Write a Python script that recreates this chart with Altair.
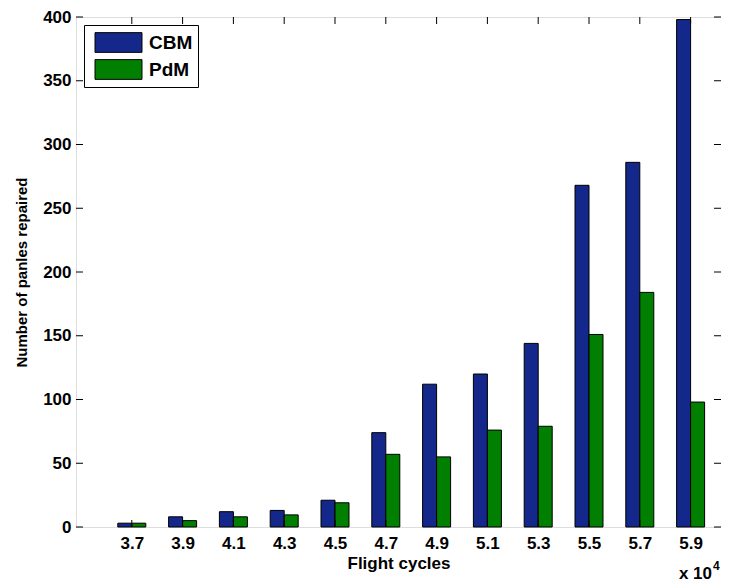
import altair as alt
import pandas as pd

# ---- data ----
cycles = [3.7, 3.9, 4.1, 4.3, 4.5, 4.7, 4.9, 5.1, 5.3, 5.5, 5.7, 5.9]   # x 10^4 flight cycles
cbm = [3, 8, 12, 13, 21, 74, 112, 120, 144, 268, 286, 398]
pdm = [3, 5, 8, 9.5, 19, 57, 55, 76, 79, 151, 184, 98]
series = ["CBM", "PdM"]
colors = ["#13288A", "#007F00"]
y_ticks = [0, 50, 100, 150, 200, 250, 300, 350, 400]
x_domain = [3.5, 6.0]
y_domain = [0, 400]

W, H = 645, 510
FONT = "Liberation Sans"

df = pd.DataFrame({
    "cycles": cycles * 2,
    "value": cbm + pdm,
    "series": ["CBM"] * len(cycles) + ["PdM"] * len(cycles),
})
xt = pd.DataFrame({"t": cycles})
yt = pd.DataFrame({"t": y_ticks})

xscale = alt.Scale(domain=x_domain, nice=False, zero=False)
yscale = alt.Scale(domain=y_domain, nice=False)

color = alt.Color(
    "series:N",
    scale=alt.Scale(domain=series, range=colors),
    legend=alt.Legend(
        title=None,
        orient="none",
        legendX=8,
        legendY=8,
        symbolType="M-2,-0.84H2V0.84H-2Z",
        symbolSize=552,
        symbolOffset=17,
        symbolStrokeColor="black",
        symbolStrokeWidth=1,
        symbolOpacity=1,
        labelFont=FONT,
        labelFontSize=19,
        labelFontWeight="bold",
        labelColor="black",
        labelOffset=18,
        rowPadding=2,
        padding=5,
        strokeColor="black",
        fillColor="white",
        cornerRadius=0,
    ),
)

xaxis = alt.Axis(
    values=cycles, format=".1f", title="Flight cycles", tickSize=0, domain=False,
    grid=False, labelPadding=8, titlePadding=4, labelFontSize=17, titleFontSize=17,
    labelFont=FONT, titleFont=FONT, labelFontWeight="bold", titleFontWeight="bold",
    labelColor="black", titleColor="black",
)
yaxis = alt.Axis(
    values=y_ticks, format="d", title="Number of panles repaired", tickSize=0, domain=False,
    grid=False, labelPadding=5, titlePadding=13, labelFontSize=17, titleFontSize=15,
    labelFont=FONT, titleFont=FONT, labelFontWeight="bold", titleFontWeight="bold",
    labelColor="black", titleColor="black",
)

bars_cbm = alt.Chart(df).transform_filter(alt.datum.series == "CBM").mark_bar(
    width=14, xOffset=-7, stroke="black", strokeWidth=1, opacity=1
).encode(
    x=alt.X("cycles:Q", scale=xscale, axis=xaxis),
    y=alt.Y("value:Q", scale=yscale, axis=yaxis),
    color=color,
)
bars_pdm = alt.Chart(df).transform_filter(alt.datum.series == "PdM").mark_bar(
    width=14, xOffset=7, stroke="black", strokeWidth=1, opacity=1
).encode(
    x=alt.X("cycles:Q", scale=xscale, axis=xaxis),
    y=alt.Y("value:Q", scale=yscale, axis=yaxis),
    color=color,
)

TL = 7
xt_bottom = alt.Chart(xt).mark_rule(color="black", strokeWidth=1).encode(
    x=alt.X("t:Q", scale=xscale), y=alt.value(H - TL), y2=alt.value(H))
xt_top = alt.Chart(xt).mark_rule(color="black", strokeWidth=1).encode(
    x=alt.X("t:Q", scale=xscale), y=alt.value(0), y2=alt.value(TL))
yt_left = alt.Chart(yt).mark_rule(color="black", strokeWidth=1).encode(
    y=alt.Y("t:Q", scale=yscale), x=alt.value(0), x2=alt.value(TL))
yt_right = alt.Chart(yt).mark_rule(color="black", strokeWidth=1).encode(
    y=alt.Y("t:Q", scale=yscale), x=alt.value(W - TL), x2=alt.value(W))

exp_base = alt.Chart(pd.DataFrame({"s": ["x 10"]})).mark_text(
    font=FONT, fontSize=17, fontWeight="bold", align="right", baseline="alphabetic", color="black"
).encode(text="s:N", x=alt.value(W - 9), y=alt.value(H + 52))
exp_pow = alt.Chart(pd.DataFrame({"s": ["4"]})).mark_text(
    font=FONT, fontSize=12, fontWeight="bold", align="left", baseline="alphabetic", color="black"
).encode(text="s:N", x=alt.value(W - 8), y=alt.value(H + 43))

chart = alt.layer(
    bars_cbm, bars_pdm, xt_bottom, xt_top, yt_left, yt_right, exp_base, exp_pow
).properties(
    width=W, height=H,
    padding={"left": 68, "top": 9, "right": 0, "bottom": 55},
    autosize="none",
).configure_view(
    stroke="black", strokeWidth=1, fill="white"
).configure(background="white")

chart.save("out.html", embed_options={"renderer": "svg", "actions": False})
